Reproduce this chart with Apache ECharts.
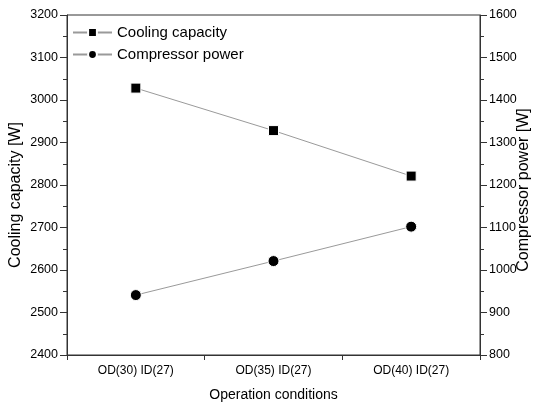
<!DOCTYPE html>
<html><head><meta charset="utf-8">
<script src="https://cdn.jsdelivr.net/npm/echarts@6/dist/echarts.min.js"></script>
<style>html,body{margin:0;padding:0;background:#fff}#c{width:536px;height:407px}</style>
</head><body><div id="c"></div>
<script>
var categories = ['OD(30) ID(27)', 'OD(35) ID(27)', 'OD(40) ID(27)'];
var coolingCapacity = [3028, 2928, 2821];
var compressorPower = [941, 1021, 1102];
var leftTicks = [2400, 3200, 100];
var rightTicks = [800, 1600, 100];

var chart = echarts.init(document.getElementById('c'));
var font = 'Liberation Sans, Arial, sans-serif';
function plain(v) { return String(v); }
chart.setOption({
  animation: false,
  backgroundColor: '#fff',
  grid: {left: 67, right: 56, top: 15, bottom: 52, show: true, borderColor: '#333', borderWidth: 1,
         containLabel: false, outerBoundsMode: 'none'},
  legend: {
    orient: 'vertical', left: 72, top: 25, padding: 0, itemGap: 7, itemWidth: 39, itemHeight: 11,
    textStyle: {fontFamily: font, fontSize: 15, color: '#000'},
    data: ['Cooling capacity', 'Compressor power']
  },
  xAxis: [{
    type: 'category', data: categories, boundaryGap: true,
    name: 'Operation conditions', nameLocation: 'middle', nameGap: 33,
    nameTextStyle: {fontFamily: font, fontSize: 14, color: '#000'},
    axisLine: {lineStyle: {color: '#333', width: 1}},
    axisTick: {alignWithLabel: true, length: 8, lineStyle: {color: '#333'}},
    axisLabel: {fontFamily: font, fontSize: 12, color: '#000', margin: 10}
  }, {
    type: 'category', data: categories, boundaryGap: true, position: 'bottom',
    axisLine: {show: false},
    axisTick: {show: true, length: 5, lineStyle: {color: '#333'}},
    axisLabel: {show: false}
  }],
  yAxis: [{
    type: 'value', min: leftTicks[0], max: leftTicks[1], interval: leftTicks[2],
    name: 'Cooling capacity [W]', nameLocation: 'middle', nameGap: 43, nameRotate: 90,
    nameMoveOverlap: false,
    nameTextStyle: {fontFamily: font, fontSize: 16, color: '#000', padding: [0, 20, 0, 0]},
    axisLine: {show: true, lineStyle: {color: '#333'}},
    axisTick: {show: true, length: 7, lineStyle: {color: '#333'}},
    minorTick: {show: true, splitNumber: 2, length: 4, lineStyle: {color: '#333'}},
    splitLine: {show: false},
    axisLabel: {fontFamily: font, fontSize: 12.5, color: '#000', margin: 9, formatter: plain}
  }, {
    type: 'value', min: rightTicks[0], max: rightTicks[1], interval: rightTicks[2],
    name: 'Compressor power [W]', nameLocation: 'middle', nameGap: 36, nameRotate: 90,
    nameMoveOverlap: false,
    nameTextStyle: {fontFamily: font, fontSize: 16, color: '#000', padding: [0, 10, 0, 0]},
    axisLine: {show: true, lineStyle: {color: '#333'}},
    axisTick: {show: true, length: 7, lineStyle: {color: '#333'}},
    minorTick: {show: true, splitNumber: 2, length: 4, lineStyle: {color: '#333'}},
    splitLine: {show: false},
    axisLabel: {fontFamily: font, fontSize: 12.5, color: '#000', margin: 9, formatter: plain}
  }],
  series: [{
    name: 'Cooling capacity', type: 'line', yAxisIndex: 0, data: coolingCapacity,
    symbol: 'rect', symbolSize: 10,
    itemStyle: {color: '#000', borderColor: '#fff', borderWidth: 1},
    lineStyle: {color: '#9a9a9a', width: 1}
  }, {
    name: 'Compressor power', type: 'line', yAxisIndex: 1, data: compressorPower,
    symbol: 'circle', symbolSize: 11,
    itemStyle: {color: '#000', borderColor: '#fff', borderWidth: 1},
    lineStyle: {color: '#9a9a9a', width: 1}
  }]
});
</script></body></html>
